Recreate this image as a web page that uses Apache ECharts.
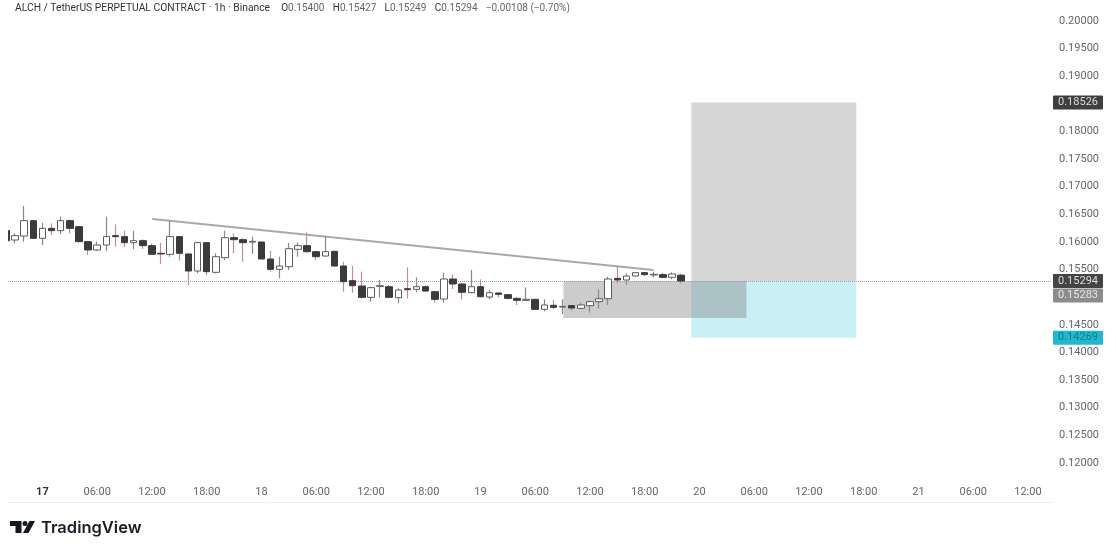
<!DOCTYPE html>
<html lang="en">
<head>
    <meta charset="UTF-8">
    <title>ALCH / TetherUS</title>
    <script src="https://cdn.jsdelivr.net/npm/echarts@6/dist/echarts.min.js"></script>
    <style>
        html, body { margin: 0; padding: 0; background: #fff; }
    </style>
</head>
<body>
<div id="main" style="width: 1116px; height: 550px;"></div>

<script type="text/javascript">
    // hours counted from the 17th 00:00
    var firstHour = -4;
    var opens = [
        0.16205, 0.16036, 0.16109, 0.16386, 0.16066, 0.16247, 0.16205, 0.16386, 0.16278, 0.16006,
        0.15855, 0.15946, 0.16115, 0.16097, 0.15988, 0.16024, 0.15934, 0.15795, 0.15777, 0.16097,
        0.15783, 0.15475, 0.15988, 0.15451, 0.15716, 0.16078, 0.16042, 0.16000, 0.16000, 0.15692,
        0.15505, 0.15553, 0.15867, 0.15934, 0.15825, 0.15746, 0.15831, 0.15565, 0.15300, 0.15203,
        0.14998, 0.15197, 0.15191, 0.14992, 0.15155, 0.15143, 0.15191, 0.15101, 0.14968, 0.15330,
        0.15240, 0.15083, 0.15191, 0.15004, 0.15077, 0.15047, 0.14980, 0.14944, 0.14962, 0.14781,
        0.14854, 0.14823, 0.14848, 0.14799, 0.14848, 0.14920, 0.14974, 0.15342, 0.15312, 0.15384,
        0.15445, 0.15403, 0.15409, 0.15360, 0.15400
    ];
    var closes = [
        0.16024, 0.16115, 0.16386, 0.16066, 0.16247, 0.16205, 0.16386, 0.16247, 0.16006, 0.15855,
        0.15946, 0.16097, 0.16097, 0.15988, 0.16024, 0.15934, 0.15777, 0.15783, 0.16097, 0.15795,
        0.15475, 0.15988, 0.15463, 0.15734, 0.16078, 0.16042, 0.15988, 0.16012, 0.15692, 0.15505,
        0.15565, 0.15879, 0.15934, 0.15825, 0.15734, 0.15825, 0.15565, 0.15282, 0.15209, 0.14998,
        0.15173, 0.15209, 0.14998, 0.15131, 0.15137, 0.15191, 0.15113, 0.14962, 0.15330, 0.15240,
        0.15089, 0.15191, 0.15010, 0.15083, 0.15053, 0.14980, 0.14944, 0.14962, 0.14781, 0.14860,
        0.14817, 0.14835, 0.14805, 0.14860, 0.14920, 0.14974, 0.15330, 0.15312, 0.15384, 0.15445,
        0.15409, 0.15415, 0.15360, 0.15421, 0.15294
    ];
    var lows = [
        0.16012, 0.15976, 0.16006, 0.16060, 0.15946, 0.16127, 0.16145, 0.16157, 0.15994, 0.15765,
        0.15837, 0.15837, 0.15916, 0.15904, 0.15867, 0.15873, 0.15765, 0.15602, 0.15734, 0.15662,
        0.15222, 0.15433, 0.15403, 0.15433, 0.15674, 0.15795, 0.15644, 0.15783, 0.15692, 0.15463,
        0.15342, 0.15493, 0.15734, 0.15807, 0.15674, 0.15734, 0.15553, 0.15101, 0.15083, 0.14980,
        0.14920, 0.14998, 0.14980, 0.14890, 0.14980, 0.15089, 0.15095, 0.14902, 0.14902, 0.15149,
        0.14962, 0.15071, 0.14998, 0.14962, 0.14998, 0.14962, 0.14860, 0.14932, 0.14769, 0.14745,
        0.14781, 0.14697, 0.14757, 0.14781, 0.14721, 0.14799, 0.14860, 0.15252, 0.15228, 0.15372,
        0.15384, 0.15360, 0.15342, 0.15324, 0.15249
    ];
    var highs = [
        0.16229, 0.16157, 0.16652, 0.16386, 0.16350, 0.16338, 0.16459, 0.16410, 0.16290, 0.16006,
        0.16006, 0.16459, 0.16320, 0.16205, 0.16205, 0.16048, 0.15976, 0.15988, 0.16386, 0.16109,
        0.15795, 0.16006, 0.15994, 0.15795, 0.16205, 0.16157, 0.16066, 0.16097, 0.16000, 0.15843,
        0.15734, 0.15988, 0.15994, 0.16175, 0.15831, 0.16109, 0.15843, 0.15644, 0.15566, 0.15463,
        0.15191, 0.15312, 0.15222, 0.15161, 0.15541, 0.15360, 0.15209, 0.15113, 0.15445, 0.15415,
        0.15252, 0.15493, 0.15324, 0.15131, 0.15083, 0.15059, 0.14998, 0.15179, 0.14974, 0.14962,
        0.14950, 0.14962, 0.14860, 0.14902, 0.14938, 0.15143, 0.15372, 0.15566, 0.15433, 0.15451,
        0.15451, 0.15463, 0.15445, 0.15451, 0.15427
    ];

    var yTicks = [0.12, 0.125, 0.13, 0.135, 0.14, 0.145, 0.15, 0.155, 0.16, 0.165, 0.17, 0.175, 0.18, 0.185, 0.19, 0.195, 0.2];
    var xTickHours = [0, 6, 12, 18, 24, 30, 36, 42, 48, 54, 60, 66, 72, 78, 84, 90, 96, 102, 108];
    var xTickLabels = ['17', '06:00', '12:00', '18:00', '18', '06:00', '12:00', '18:00', '19', '06:00', '12:00', '18:00', '20', '06:00', '12:00', '18:00', '21', '06:00', '12:00'];

    var trendHours = [12.05, 66.96];
    var trendPrices = [0.16416, 0.15493];

    var lastPrice = 0.15294;
    var entryPrice = 0.15283;
    var targetPrice = 0.18526;
    var stopPrice = 0.14269;
    var boxBottomPrice = 0.14624;
    var riskHours = [71.12, 89.2];
    var boxHours = [57.1, 77.15];

    var wickData = [], bodyData = [];
    for (var i = 0; i < opens.length; i++) {
        var h = firstHour + i;
        wickData.push([h, opens[i], closes[i], lows[i], highs[i]]);
        bodyData.push([h, opens[i], closes[i], Math.min(opens[i], closes[i]), Math.max(opens[i], closes[i])]);
    }

    var labelFont = 'Roboto, sans-serif';
    var myChart = echarts.init(document.getElementById('main'));

    var baseGraphic = [
        // the first candle is cut by the pane edge
        { type: 'rect', shape: { x: 0, y: 0, width: 8, height: 502 }, style: { fill: '#ffffff' }, z: 9 },
        // TradingView mark
        { type: 'polygon', shape: { points: [[10, 521], [21.5, 521], [21.5, 533], [15.5, 533], [15.5, 526], [10, 526]] }, style: { fill: '#131722' } },
        { type: 'circle', shape: { cx: 25, cy: 523.5, r: 2.5 }, style: { fill: '#131722' } },
        { type: 'polygon', shape: { points: [[23, 533], [28.5, 533], [35, 521], [29.5, 521]] }, style: { fill: '#131722' } },
        { type: 'text', x: 41, y: 520, style: { text: 'TradingView', fontFamily: 'Inter, Roboto, sans-serif', fontSize: 16.5, fontWeight: 600, fill: '#1a1d26' } }
    ];

    myChart.setOption({
        animation: false,
        backgroundColor: '#ffffff',
        title: {
            left: 15,
            top: 3,
            padding: 0,
            text: '{t|ALCH / TetherUS PERPETUAL CONTRACT · 1h · Binance}    {d|O}{g|0.15400}   {d|H}{g|0.15427}   {d|L}{g|0.15249}   {d|C}{g|0.15294}   {g|−0.00108 (−0.70%)}',
            textStyle: {
                fontSize: 10,
                fontWeight: 'normal',
                rich: {
                    t: { fontFamily: labelFont, fontSize: 10.3, color: '#333333' },
                    d: { fontFamily: labelFont, fontSize: 10, color: '#333333' },
                    g: { fontFamily: labelFont, fontSize: 10, color: '#666666' }
                }
            }
        },
        grid: { left: 8, top: 0, width: 1044, height: 502 },
        xAxis: {
            type: 'value',
            min: -3.77,
            max: 110.64,
            splitLine: { show: false },
            axisTick: { show: false },
            axisLine: { show: true, onZero: false, lineStyle: { color: '#efefef' } },
            axisLabel: {
                inside: true,
                margin: 4,
                customValues: xTickHours,
                fontFamily: labelFont,
                fontSize: 11,
                color: '#666666',
                formatter: function (v) {
                    var s = xTickLabels[xTickHours.indexOf(v)];
                    return s === '17' ? '{b|' + s + '}' : s;
                },
                rich: { b: { fontFamily: labelFont, fontSize: 11, fontWeight: 'bold', color: '#333333' } }
            }
        },
        yAxis: {
            type: 'value',
            position: 'right',
            min: 0.11294,
            max: 0.2038,
            splitLine: { show: false },
            axisTick: { show: false },
            axisLine: { show: false },
            axisLabel: {
                margin: 7,
                padding: [2, 0, 0, 0],
                customValues: yTicks,
                fontFamily: labelFont,
                fontSize: 11,
                color: '#666666',
                formatter: function (v) { return v.toFixed(5); }
            }
        },
        series: [
            {
                name: 'zones',
                type: 'line',
                data: [],
                silent: true,
                z: 1,
                markArea: {
                    silent: true,
                    data: [
                        [{ coord: [riskHours[0], targetPrice], itemStyle: { color: '#d6d6d6' } }, { coord: [riskHours[1], lastPrice] }],
                        [{ coord: [riskHours[0], lastPrice], itemStyle: { color: '#c8f0f5' } }, { coord: [riskHours[1], stopPrice] }],
                        [{ coord: [boxHours[0], lastPrice], itemStyle: { color: 'rgba(128,128,128,0.4)' } }, { coord: [boxHours[1], boxBottomPrice] }]
                    ]
                },
                markLine: {
                    silent: true,
                    symbol: 'none',
                    precision: 5,
                    label: { show: false },
                    lineStyle: { color: '#a0a0a0', type: 'dotted', width: 1 },
                    data: [{ yAxis: lastPrice }]
                }
            },
            {
                name: 'trend',
                type: 'line',
                data: [[trendHours[0], trendPrices[0]], [trendHours[1], trendPrices[1]]],
                symbol: 'none',
                silent: true,
                z: 3,
                lineStyle: { color: '#a9a9a9', width: 2 }
            },
            {
                name: 'wicks',
                type: 'candlestick',
                data: wickData,
                barWidth: 1,
                z: 4,
                itemStyle: { color: '#7d8f84', color0: '#c48a9c', borderColor: '#7d8f84', borderColor0: '#c48a9c', borderWidth: 1.2 }
            },
            {
                name: 'bodies',
                type: 'candlestick',
                data: bodyData,
                barWidth: 7,
                z: 5,
                itemStyle: { color: '#ffffff', color0: '#3b3b3b', borderColor: '#5c5c5c', borderColor0: '#3b3b3b', borderWidth: 1 }
            }
        ],
        graphic: baseGraphic
    });

    // price tags on the scale, the entry tag sits below the last price tag like on the original
    function priceTag(price, bg, fg, shift) {
        var y = myChart.convertToPixel({ yAxisIndex: 0 }, price) + shift;
        return [
            { type: 'rect', shape: { x: 1053, y: y - 7, width: 50, height: 14, r: 1 }, style: { fill: bg }, z: 10 },
            { type: 'text', x: 1078, y: y, style: { text: price.toFixed(5), fontFamily: labelFont, fontSize: 11, fill: fg, align: 'center', verticalAlign: 'middle' }, z: 11 }
        ];
    }
    myChart.setOption({
        graphic: baseGraphic.concat(
            priceTag(targetPrice, '#3f3f3f', '#dddddd', 0),
            priceTag(entryPrice, '#8c8c8c', '#e6e6e6', 14),
            priceTag(lastPrice, '#444444', '#dddddd', 0),
            priceTag(stopPrice, '#1fb8d0', '#16798c', 0)
        )
    });
</script>
</body>
</html>
